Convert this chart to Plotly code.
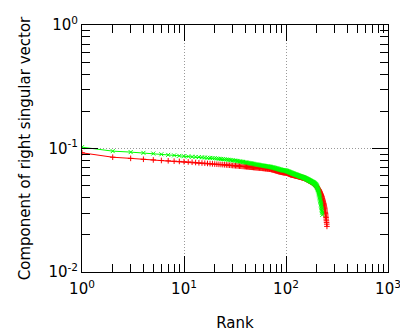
import plotly.graph_objects as go

# Rank vs component of right singular vector (sorted)
green_vals = [
    0.1025, 0.0952, 0.0935, 0.0922, 0.0910, 0.0898, 0.0888, 0.0880, 0.0872, 0.0866,
    0.0862, 0.0858, 0.0855, 0.0851, 0.0848, 0.0845, 0.0842, 0.0839, 0.0836, 0.0833,
    0.0830, 0.0826, 0.0823, 0.0820, 0.0817, 0.0814, 0.0811, 0.0808, 0.0805, 0.0802,
    0.0799, 0.0796, 0.0793, 0.0790, 0.0787, 0.0784, 0.0781, 0.0778, 0.0775, 0.0772,
    0.0769, 0.0766, 0.0764, 0.0761, 0.0758, 0.0756, 0.0753, 0.0751, 0.0748, 0.0745,
    0.0743, 0.0741, 0.0739, 0.0737, 0.0735, 0.0733, 0.0731, 0.0729, 0.0727, 0.0725,
    0.0723, 0.0722, 0.0720, 0.0719, 0.0717, 0.0716, 0.0714, 0.0713, 0.0711, 0.0710,
    0.0708, 0.0706, 0.0704, 0.0702, 0.0700, 0.0698, 0.0696, 0.0694, 0.0692, 0.0690,
    0.0688, 0.0686, 0.0684, 0.0682, 0.0680, 0.0678, 0.0676, 0.0674, 0.0672, 0.0670,
    0.0669, 0.0668, 0.0667, 0.0666, 0.0665, 0.0664, 0.0663, 0.0662, 0.0661, 0.0660,
    0.0658, 0.0656, 0.0654, 0.0652, 0.0650, 0.0648, 0.0646, 0.0644, 0.0642, 0.0640,
    0.0638, 0.0636, 0.0634, 0.0632, 0.0630, 0.0628, 0.0627, 0.0625, 0.0623, 0.0622,
    0.0620, 0.0618, 0.0617, 0.0615, 0.0614, 0.0612, 0.0611, 0.0609, 0.0608, 0.0606,
    0.0605, 0.0603, 0.0602, 0.0600, 0.0599, 0.0597, 0.0596, 0.0594, 0.0593, 0.0592,
    0.0591, 0.0590, 0.0589, 0.0588, 0.0587, 0.0586, 0.0585, 0.0583, 0.0582, 0.0580,
    0.0579, 0.0577, 0.0576, 0.0574, 0.0573, 0.0571, 0.0570, 0.0568, 0.0567, 0.0565,
    0.0564, 0.0562, 0.0561, 0.0559, 0.0558, 0.0556, 0.0555, 0.0553, 0.0552, 0.0550,
    0.0549, 0.0547, 0.0546, 0.0544, 0.0543, 0.0541, 0.0540, 0.0538, 0.0537, 0.0536,
    0.0535, 0.0534, 0.0533, 0.0531, 0.0530, 0.0528, 0.0526, 0.0524, 0.0522, 0.0520,
    0.0518, 0.0516, 0.0514, 0.0512, 0.0510, 0.0507, 0.0504, 0.0501, 0.0498, 0.0495,
    0.0490, 0.0485, 0.0480, 0.0474, 0.0468, 0.0462, 0.0456, 0.0449, 0.0442, 0.0434,
    0.0426, 0.0418, 0.0410, 0.0402, 0.0394, 0.0386, 0.0378, 0.0370, 0.0362, 0.0354,
    0.0346, 0.0338, 0.0330, 0.0321, 0.0312, 0.0302, 0.0290,
]

red_vals = [
    0.0923, 0.0850, 0.0832, 0.0818, 0.0808, 0.0800, 0.0795, 0.0790, 0.0786, 0.0782,
    0.0778, 0.0774, 0.0770, 0.0766, 0.0763, 0.0760, 0.0757, 0.0754, 0.0751, 0.0748,
    0.0746, 0.0744, 0.0742, 0.0740, 0.0738, 0.0736, 0.0734, 0.0732, 0.0730, 0.0728,
    0.0726, 0.0725, 0.0723, 0.0722, 0.0720, 0.0719, 0.0717, 0.0716, 0.0714, 0.0713,
    0.0711, 0.0710, 0.0709, 0.0707, 0.0706, 0.0705, 0.0704, 0.0702, 0.0701, 0.0700,
    0.0699, 0.0698, 0.0697, 0.0696, 0.0695, 0.0694, 0.0693, 0.0692, 0.0691, 0.0690,
    0.0689, 0.0688, 0.0687, 0.0686, 0.0685, 0.0684, 0.0683, 0.0682, 0.0681, 0.0680,
    0.0678, 0.0676, 0.0674, 0.0672, 0.0670, 0.0668, 0.0666, 0.0664, 0.0662, 0.0660,
    0.0658, 0.0656, 0.0654, 0.0652, 0.0650, 0.0649, 0.0647, 0.0646, 0.0644, 0.0643,
    0.0642, 0.0641, 0.0640, 0.0639, 0.0638, 0.0637, 0.0637, 0.0636, 0.0636, 0.0636,
    0.0634, 0.0632, 0.0630, 0.0628, 0.0626, 0.0624, 0.0622, 0.0620, 0.0618, 0.0616,
    0.0614, 0.0613, 0.0612, 0.0611, 0.0610, 0.0609, 0.0608, 0.0607, 0.0606, 0.0605,
    0.0604, 0.0603, 0.0602, 0.0601, 0.0600, 0.0599, 0.0598, 0.0597, 0.0596, 0.0595,
    0.0594, 0.0593, 0.0592, 0.0591, 0.0590, 0.0589, 0.0588, 0.0587, 0.0586, 0.0585,
    0.0584, 0.0583, 0.0582, 0.0581, 0.0580, 0.0580, 0.0579, 0.0578, 0.0577, 0.0576,
    0.0575, 0.0573, 0.0572, 0.0570, 0.0569, 0.0567, 0.0566, 0.0564, 0.0563, 0.0561,
    0.0560, 0.0558, 0.0557, 0.0555, 0.0554, 0.0552, 0.0551, 0.0549, 0.0548, 0.0546,
    0.0545, 0.0543, 0.0542, 0.0540, 0.0539, 0.0537, 0.0536, 0.0534, 0.0533, 0.0531,
    0.0530, 0.0528, 0.0527, 0.0525, 0.0523, 0.0521, 0.0519, 0.0517, 0.0515, 0.0513,
    0.0511, 0.0509, 0.0507, 0.0505, 0.0503, 0.0501, 0.0499, 0.0497, 0.0495, 0.0492,
    0.0489, 0.0486, 0.0483, 0.0480, 0.0477, 0.0474, 0.0471, 0.0468, 0.0465, 0.0462,
    0.0459, 0.0456, 0.0452, 0.0448, 0.0444, 0.0440, 0.0436, 0.0432, 0.0428, 0.0424,
    0.0420, 0.0416, 0.0412, 0.0408, 0.0403, 0.0398, 0.0393, 0.0388, 0.0383, 0.0378,
    0.0373, 0.0368, 0.0363, 0.0358, 0.0353, 0.0348, 0.0343, 0.0337, 0.0331, 0.0325,
    0.0318, 0.0311, 0.0304, 0.0297, 0.0290, 0.0283, 0.0276, 0.0268, 0.0260, 0.0252,
    0.0244, 0.0234,
]

red_rank = list(range(1, len(red_vals) + 1))
green_rank = list(range(1, len(green_vals) + 1))

x_tickvals = [1, 10, 100, 1000]
x_ticktext = ["10<sup>0</sup>", "10<sup>1</sup>", "10<sup>2</sup>", "10<sup>3</sup>"]
y_tickvals = [0.01, 0.1, 1]
y_ticktext = ["10<sup>-2</sup>", "10<sup>-1</sup>", "10<sup>0</sup>"]
x_minor = [m * d for d in (1, 10, 100) for m in range(2, 10)]
y_minor = [m * d for d in (0.01, 0.1) for m in range(2, 10)]

FONT = "DejaVu Sans"

fig = go.Figure()
fig.add_trace(go.Scatter(
    x=red_rank, y=red_vals, mode="lines+markers",
    line=dict(color="#ff0000", width=1),
    marker=dict(symbol="cross-thin", size=4, line=dict(color="#ff0000", width=1)),
    showlegend=False,
))
fig.add_trace(go.Scatter(
    x=green_rank, y=green_vals, mode="lines+markers",
    line=dict(color="#00ff00", width=1),
    marker=dict(symbol="x-thin", size=4, line=dict(color="#00ff00", width=1)),
    showlegend=False,
))

tickfont = dict(family=FONT, size=15, color="black")
titlefont = dict(family=FONT, size=15, color="black")

common = dict(
    type="log", automargin=False,
    showline=True, linecolor="black", linewidth=1, mirror="allticks",
    ticks="inside", ticklen=16, tickcolor="black", tickwidth=1,
    showgrid=True, gridcolor="#999999", griddash="1px,2px", gridwidth=1,
    zeroline=False, tickfont=tickfont, ticklabeloverflow="allow",
)

fig.update_layout(
    width=400, height=335,
    margin=dict(l=82, r=12, t=25, b=63),
    paper_bgcolor="white", plot_bgcolor="white",
    font=dict(family=FONT, size=15, color="black"),
    xaxis=dict(
        **common, range=[0, 3],
        tickvals=x_tickvals, ticktext=x_ticktext, ticklabelstandoff=3,
        minor=dict(tickvals=x_minor, ticks="inside", ticklen=8,
                   tickcolor="black", tickwidth=1, showgrid=False),
        title=dict(text="Rank", font=titlefont, standoff=20),
    ),
    yaxis=dict(
        **common, range=[-2, 0],
        tickvals=y_tickvals, ticktext=y_ticktext,
        minor=dict(tickvals=y_minor, ticks="inside", ticklen=8,
                   tickcolor="black", tickwidth=1, showgrid=False),
        title=dict(text="Component of right singular vector", font=titlefont, standoff=14),
    ),
)

# remove the default page margin so the figure starts at the window corner
fig.write_html("out.html", config={"displayModeBar": False},
               post_script="document.body.style.margin='0';")
